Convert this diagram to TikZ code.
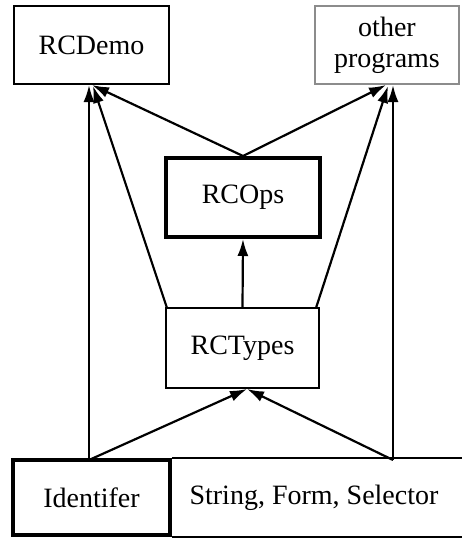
\documentclass[tikz,border=0pt]{standalone}
\usepackage{fontspec}
\setmainfont{Liberation Serif}
\usetikzlibrary{arrows.meta}
\begin{document}
\begin{tikzpicture}[x=1pt,y=-1pt,
  box/.style={draw,line width=2.2pt,inner sep=0pt,align=center,font=\fontsize{28}{31}\selectfont},
  thickbox/.style={box,line width=4pt},
  graybox/.style={box,draw=black!45},
  arr/.style={line width=2.2pt,-{Latex[length=17pt,width=11pt]}},
  ln/.style={line width=2.2pt}]
\useasboundingbox (0,0) rectangle (461,538);
\node[box,minimum width=155pt,minimum height=78pt] (demo) at (91.5,45) {RCDemo};
\node[graybox,minimum width=144pt,minimum height=78pt] (other) at (387,45) {other\\programs};
\node[thickbox,minimum width=154pt,minimum height=79pt] (ops) at (243,197.5) {RCOps};
\node[box,minimum width=153pt,minimum height=80pt] (types) at (242.5,348) {RCTypes};
\node[thickbox,minimum width=157pt,minimum height=75pt] (idf) at (91.5,497.5) {Identifer};
\node[font=\fontsize{28}{31}\selectfont,inner sep=0pt] (str) at (314,497.5) {String, Form, Selector};
% open box around the String text
\draw[ln] (idf.north east) -- ++(320,0);
\draw[ln] (idf.south east) -- ++(320,0);
% connector end points
\coordinate (dIn) at (92,85);
\coordinate (oIn) at (386,85);
\coordinate (tIn) at (247,389);
\coordinate (idTop) at (89,460);
\coordinate (strTop) at (393,460);
\coordinate (tNW) at (167,308);
\coordinate (tNE) at (316,308);
% connectors
\draw[arr] (idTop) -- (idTop |- dIn);
\draw[arr] (idTop) -- (tIn);
\draw[arr] (strTop) -- (strTop |- oIn);
\draw[arr] (strTop) -- (tIn);
\draw[arr] (tNW) -- (93,86);
\draw[arr] (tNE) -- (388,86);
\draw[arr] (types.north) -- (ops.south);
\draw[arr] (ops.north) -- (dIn);
\draw[arr] (ops.north) -- (oIn);
\end{tikzpicture}
\end{document}
